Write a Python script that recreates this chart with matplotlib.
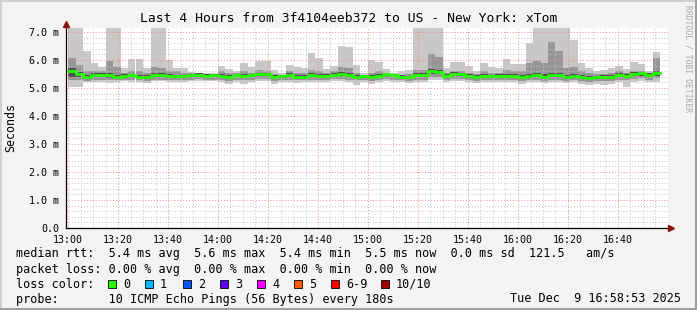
import matplotlib
matplotlib.use('Agg')
import matplotlib.pyplot as plt
from matplotlib.patches import Rectangle
import numpy as np

# ---- data (minutes after 13:00, one sample every 3 min) ----
step_min = 3
n_steps = 79
t_start = np.arange(n_steps) * step_min

rtt_median = [5.62, 5.50, 5.39, 5.46, 5.46, 5.46, 5.40, 5.44, 5.45, 5.41, 5.38, 5.46, 5.46, 5.43, 5.42, 5.42,
              5.46, 5.48, 5.44, 5.46, 5.44, 5.38, 5.46, 5.42, 5.46, 5.50, 5.50, 5.38, 5.44, 5.46, 5.40, 5.40,
              5.46, 5.44, 5.44, 5.48, 5.50, 5.46, 5.40, 5.42, 5.38, 5.44, 5.50, 5.46, 5.40, 5.38, 5.46, 5.46,
              5.60, 5.58, 5.44, 5.50, 5.50, 5.44, 5.40, 5.44, 5.42, 5.44, 5.44, 5.44, 5.40, 5.42, 5.46, 5.40,
              5.46, 5.46, 5.40, 5.42, 5.40, 5.37, 5.38, 5.40, 5.40, 5.46, 5.44, 5.50, 5.52, 5.46, 5.52]

rtt_max = [7.3, 7.3, 6.32, 5.9, 5.75, 7.3, 7.3, 5.7, 6.02, 6.02, 5.7, 7.3, 7.3, 6.0, 5.72, 5.7,
           5.58, 5.52, 5.55, 5.52, 5.8, 5.68, 5.6, 5.9, 5.75, 5.98, 5.95, 5.65, 5.52, 5.82, 5.75, 5.72,
           6.24, 6.06, 5.67, 5.8, 6.5, 6.45, 5.82, 5.52, 6.0, 5.93, 5.68, 5.52, 5.6, 5.64, 7.3, 7.3,
           7.3, 7.3, 5.72, 5.92, 5.92, 5.8, 5.6, 5.9, 5.75, 5.72, 6.05, 5.85, 5.85, 6.62, 7.3, 7.3,
           7.3, 7.3, 7.3, 6.71, 5.9, 5.72, 5.6, 5.64, 5.72, 5.8, 5.68, 5.93, 5.86, 5.62, 6.3]

rtt_hi2 = [6.07, 5.82, 5.6, 5.62, 5.6, 5.95, 5.75, 5.55, 5.62, 5.6, 5.55, 5.75, 5.7, 5.62, 5.6, 5.55,
           5.52, 5.5, 5.5, 5.5, 5.6, 5.55, 5.52, 5.6, 5.55, 5.65, 5.6, 5.5, 5.48, 5.6, 5.55, 5.55,
           5.65, 5.62, 5.55, 5.6, 5.75, 5.72, 5.55, 5.48, 5.55, 5.6, 5.55, 5.5, 5.48, 5.5, 5.65, 5.65,
           6.2, 6.1, 5.55, 5.62, 5.62, 5.55, 5.5, 5.6, 5.55, 5.55, 5.65, 5.6, 5.6, 5.9, 5.95, 5.9,
           6.65, 6.32, 5.7, 5.75, 5.6, 5.55, 5.5, 5.5, 5.55, 5.6, 5.55, 5.62, 5.62, 5.52, 6.06]

rtt_hi3 = [5.72, 5.58, 5.48, 5.52, 5.52, 5.55, 5.48, 5.5, 5.5, 5.48, 5.45, 5.52, 5.52, 5.5, 5.48, 5.48,
           5.5, 5.52, 5.5, 5.5, 5.5, 5.45, 5.5, 5.5, 5.5, 5.55, 5.55, 5.45, 5.48, 5.52, 5.46, 5.46,
           5.52, 5.5, 5.5, 5.52, 5.56, 5.52, 5.46, 5.46, 5.45, 5.5, 5.52, 5.5, 5.45, 5.44, 5.52, 5.52,
           5.68, 5.65, 5.5, 5.56, 5.55, 5.5, 5.46, 5.5, 5.48, 5.5, 5.5, 5.5, 5.46, 5.5, 5.55, 5.5,
           5.55, 5.52, 5.46, 5.5, 5.46, 5.44, 5.44, 5.46, 5.46, 5.52, 5.5, 5.56, 5.58, 5.52, 5.6]

rtt_lo3 = [5.38, 5.4, 5.32, 5.38, 5.38, 5.36, 5.34, 5.36, 5.38, 5.35, 5.32, 5.38, 5.38, 5.36, 5.35, 5.36,
           5.38, 5.4, 5.37, 5.38, 5.36, 5.32, 5.38, 5.35, 5.38, 5.42, 5.42, 5.32, 5.37, 5.38, 5.34, 5.34,
           5.38, 5.37, 5.37, 5.4, 5.42, 5.38, 5.34, 5.35, 5.32, 5.37, 5.42, 5.38, 5.34, 5.32, 5.38, 5.38,
           5.5, 5.5, 5.37, 5.42, 5.42, 5.37, 5.33, 5.37, 5.35, 5.37, 5.36, 5.37, 5.33, 5.35, 5.38, 5.33,
           5.38, 5.38, 5.33, 5.35, 5.33, 5.3, 5.31, 5.33, 5.33, 5.38, 5.37, 5.42, 5.44, 5.38, 5.44]

rtt_lo2 = [5.3, 5.3, 5.26, 5.3, 5.3, 5.28, 5.28, 5.3, 5.3, 5.28, 5.26, 5.3, 5.3, 5.28, 5.28, 5.28,
           5.3, 5.32, 5.3, 5.3, 5.28, 5.26, 5.3, 5.28, 5.3, 5.33, 5.33, 5.26, 5.3, 5.3, 5.27, 5.27,
           5.3, 5.3, 5.3, 5.32, 5.33, 5.3, 5.27, 5.28, 5.26, 5.3, 5.33, 5.3, 5.27, 5.26, 5.3, 5.3,
           5.4, 5.4, 5.3, 5.33, 5.33, 5.3, 5.26, 5.3, 5.28, 5.3, 5.28, 5.3, 5.26, 5.28, 5.3, 5.26,
           5.3, 5.3, 5.26, 5.28, 5.26, 5.23, 5.24, 5.26, 5.26, 5.3, 5.28, 5.33, 5.35, 5.3, 5.35]

rtt_min = [5.05, 5.05, 5.2, 5.22, 5.22, 5.18, 5.2, 5.24, 5.22, 5.2, 5.18, 5.24, 5.24, 5.2, 5.2, 5.22,
           5.24, 5.26, 5.24, 5.24, 5.2, 5.14, 5.22, 5.16, 5.2, 5.25, 5.25, 5.14, 5.22, 5.22, 5.18, 5.2,
           5.22, 5.22, 5.22, 5.24, 5.25, 5.22, 5.12, 5.2, 5.16, 5.22, 5.25, 5.22, 5.2, 5.18, 5.22, 5.22,
           5.3, 5.3, 5.22, 5.25, 5.25, 5.22, 5.18, 5.22, 5.2, 5.22, 5.2, 5.22, 5.16, 5.2, 5.22, 5.18,
           5.22, 5.22, 5.18, 5.2, 5.16, 5.12, 5.14, 5.1, 5.16, 5.2, 5.05, 5.2, 5.25, 5.2, 5.22]

x_tick_pos = [0, 20, 40, 60, 80, 100, 120, 140, 160, 180, 200, 220]
x_tick_labels = ['13:00', '13:20', '13:40', '14:00', '14:20', '14:40',
                 '15:00', '15:20', '15:40', '16:00', '16:20', '16:40']
y_tick_pos = [0, 1, 2, 3, 4, 5, 6, 7]
y_tick_labels = ['0.0', '1.0 m', '2.0 m', '3.0 m', '4.0 m', '5.0 m', '6.0 m', '7.0 m']

loss_labels = ['0', '1', '2', '3', '4', '5', '6-9', '10/10']
loss_colors = ['#26ff00', '#00b8ff', '#0059ff', '#5e00ff', '#ff00ff', '#ff5e00', '#ff0000', '#a10000']

title = 'Last 4 Hours from 3f4104eeb372 to US - New York: xTom'
row_rtt = 'median rtt:  5.4 ms avg  5.6 ms max  5.4 ms min  5.5 ms now  0.0 ms sd  121.5   am/s'
row_loss = 'packet loss: 0.00 % avg  0.00 % max  0.00 % min  0.00 % now'
row_probe = 'probe:       10 ICMP Echo Pings (56 Bytes) every 180s'
stamp = 'Tue Dec  9 16:58:53 2025'

# ---- figure ----
W, H = 697, 310
MONO = 'DejaVu Sans Mono'
plt.rcParams['font.family'] = MONO

def fx(px):
    return px / W

def fy(py):
    return 1 - py / H

fig = plt.figure(figsize=(W / 100, H / 100), dpi=100)
fig.patch.set_facecolor('#f3f3f3')

# frame around the image
fig.add_artist(Rectangle((0, fy(2)), 1, 2 / H, transform=fig.transFigure, color='#d0d0d0', lw=0))
fig.add_artist(Rectangle((0, 0), fx(2), 1, transform=fig.transFigure, color='#d0d0d0', lw=0))
fig.add_artist(Rectangle((0, 0), 1, 2 / H, transform=fig.transFigure, color='#9e9e9e', lw=0))
fig.add_artist(Rectangle((fx(W - 2), 0), fx(2), 1, transform=fig.transFigure, color='#9e9e9e', lw=0))

ax = fig.add_axes([fx(66), (H - 228) / H, (668 - 66) / W, (228 - 28) / H])
ax.set_facecolor('white')
x0, x1 = -0.8, 240.0
y0, y1 = 0.0, 200 / 28
ax.set_xlim(x0, x1)
ax.set_ylim(y0, y1)

# smoke: outer to inner
med = np.array(rtt_median)
layers = [(rtt_min, rtt_max, '#c8c8c8'),
          (rtt_lo2, rtt_hi2, '#969696'),
          (rtt_lo3, rtt_hi3, '#505050')]
for lo, hi, col in layers:
    lo = np.array(lo)
    hi = np.array(hi)
    ax.bar(t_start, hi - lo, bottom=lo, width=step_min, align='edge',
           color=col, linewidth=0, zorder=1)

# grid on top of smoke
ax.set_xticks(x_tick_pos)
ax.set_xticks(np.arange(0, 240, 5), minor=True)
ax.set_yticks(y_tick_pos)
ax.set_yticks(np.arange(0, 7.2, 0.2), minor=True)
ax.set_axisbelow(False)
ax.grid(which='minor', color='#c4c4c4', linestyle=(0, (1, 2)), linewidth=0.7, zorder=3)
ax.grid(which='major', color='#f08a8a', linestyle=(0, (1, 2)), linewidth=0.7, zorder=3)

# median line
xs = np.append(t_start, t_start[-1] + step_min)
ys = np.append(med, med[-1])
ax.step(xs, ys, where='post', color='#26ff00', linewidth=2.0, zorder=4)

ax.set_xticklabels(x_tick_labels, fontsize=7.2)
ax.set_yticklabels(y_tick_labels, fontsize=7.2)
ax.tick_params(which='both', length=0)
ax.tick_params(axis='x', pad=5)
ax.tick_params(axis='y', pad=5)
for s in ax.spines.values():
    s.set_visible(False)

# axis lines with arrows
ax.plot([x0, 240.6], [0, 0], color='black', lw=0.9, clip_on=False, zorder=5)
ax.plot([x0, x0], [0, 7.25], color='black', lw=0.9, clip_on=False, zorder=5)
ax.plot([241.2], [0], marker='>', markersize=4, color='#8b1010', clip_on=False, zorder=6)
ax.plot([x0], [7.3], marker='^', markersize=4, color='#8b1010', clip_on=False, zorder=6)

# y axis title
fig.text(fx(11), fy(128), 'Seconds', rotation=90, ha='center', va='center', fontsize=8.4)

# title and side text
fig.text(0.5, fy(19), title, ha='center', va='center', fontsize=9.4)
fig.text(fx(688), fy(5), 'RRDTOOL / TOBI OETIKER', rotation=270, ha='center', va='top',
         fontsize=5.8, color='#a8a8a8')

# legend rows
fs = 8.5
fig.text(fx(16), fy(254), row_rtt, ha='left', va='center', fontsize=fs)
fig.text(fx(16), fy(269), row_loss, ha='left', va='center', fontsize=fs)
fig.text(fx(16), fy(284), 'loss color:', ha='left', va='center', fontsize=fs)
sw_x = [108, 145, 183, 220, 257, 294, 331, 381]
for px, lab, col in zip(sw_x, loss_labels, loss_colors):
    fig.add_artist(Rectangle((fx(px), fy(288)), 8 / W, 8 / H, transform=fig.transFigure,
                             facecolor=col, edgecolor='black', lw=0.6))
    fig.text(fx(px + 15), fy(284), lab, ha='left', va='center', fontsize=fs)
fig.text(fx(16), fy(299), row_probe, ha='left', va='center', fontsize=fs)
fig.text(fx(681), fy(299), stamp, ha='right', va='center', fontsize=fs)

fig.savefig('out.png', dpi=100, facecolor=fig.get_facecolor())
